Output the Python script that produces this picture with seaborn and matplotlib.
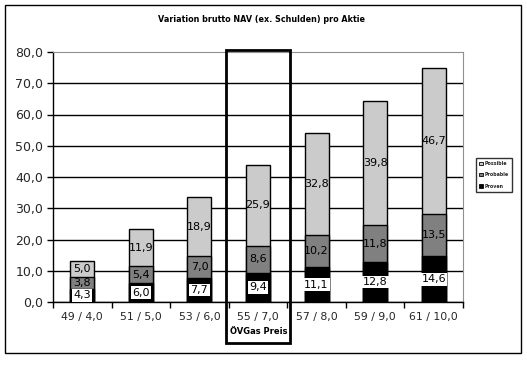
import matplotlib
matplotlib.use("Agg")
import matplotlib.pyplot as plt
import matplotlib.transforms as mtransforms
from matplotlib.patches import Rectangle, Patch
import numpy as np
import pandas as pd
import seaborn as sns

categories = ["49 / 4,0", "51 / 5,0", "53 / 6,0", "55 / 7,0", "57 / 8,0", "59 / 9,0", "61 / 10,0"]
proven = [4.3, 6.0, 7.7, 9.4, 11.1, 12.8, 14.6]
probable = [3.8, 5.4, 7.0, 8.6, 10.2, 11.8, 13.5]
possible = [5.0, 11.9, 18.9, 25.9, 32.8, 39.8, 46.7]
series_names = ["Possible", "Probable", "Proven"]
y_ticks = [0, 10, 20, 30, 40, 50, 60, 70, 80]
title = "Variation brutto NAV (ex. Schulden) pro Aktie"
highlight_label = "ÖVGas Preis"
highlight_index = 3

sns.set_theme(style="white")
plt.rcParams["font.family"] = ["DejaVu Sans"]

df = pd.DataFrame({"cat": categories, "proven": proven,
                   "probable": probable, "possible": possible})
df["lvl2"] = df["proven"] + df["probable"]
df["lvl3"] = df["lvl2"] + df["possible"]

W, H = 527, 384
fig = plt.figure(figsize=(W / 100, H / 100), dpi=100)
fig.patch.set_facecolor("white")
ax = fig.add_axes([53 / W, 1 - 302 / H, (463 - 53) / W, (302 - 52) / H])

c_possible = "#cbcbcb"
c_probable = "#808080"
c_proven = "#000000"
bw = 0.41
common = dict(x="cat", order=categories, width=bw, edgecolor="black",
              linewidth=1.0, ax=ax, zorder=3)
sns.barplot(data=df, y="lvl3", color=c_possible, saturation=1, **common)
sns.barplot(data=df, y="lvl2", color=c_probable, saturation=1, **common)
sns.barplot(data=df, y="proven", color=c_proven, saturation=1, **common)

ax.set_ylim(0, 80)
ax.set_xlim(-0.5, len(categories) - 0.5)
ax.set_xlabel("")
ax.set_ylabel("")

# labels
fs = 8
for i in range(len(categories)):
    ax.text(i, df["proven"][i] / 2, f"{proven[i]:.1f}".replace(".", ","),
            ha="center", va="center", fontsize=fs, color="black", zorder=5,
            bbox=dict(facecolor="white", edgecolor="none", pad=1.0))
    ax.text(i, df["proven"][i] + probable[i] / 2, f"{probable[i]:.1f}".replace(".", ","),
            ha="center", va="center", fontsize=fs, color="black", zorder=5)
    ax.text(i, df["lvl2"][i] + possible[i] / 2, f"{possible[i]:.1f}".replace(".", ","),
            ha="center", va="center", fontsize=fs, color="black", zorder=5)

# y axis
ax.set_yticks(y_ticks)
ax.set_yticklabels([f"{v:.1f}".replace(".", ",") for v in y_ticks], fontsize=9)
ax.yaxis.grid(True, color="black", linewidth=1.0)
ax.set_axisbelow(True)
ax.get_ygridlines()[-1].set_visible(False)
ax.tick_params(axis="y", which="major", direction="out", length=4, width=1,
               color="black", left=True, pad=3)

# x axis
ax.set_xticks(range(len(categories)))
ax.set_xticklabels(categories, fontsize=7.8)
ax.tick_params(axis="x", which="major", length=0, pad=7)
ax.set_xticks(np.arange(-0.5, len(categories), 1.0), minor=True)
ax.tick_params(axis="x", which="minor", direction="out", length=4, width=1,
               color="black", bottom=True)

for s in ["left", "bottom"]:
    ax.spines[s].set_color("black")
    ax.spines[s].set_linewidth(1.0)
for s in ["top", "right"]:
    ax.spines[s].set_color("#909090")
    ax.spines[s].set_linestyle((0, (1, 1)))
    ax.spines[s].set_linewidth(0.8)

# title
fig.text(262 / W, 1 - 20 / H, title, ha="center", va="center",
         fontsize=5.8, fontweight="bold", color="black")

# highlight box
trans = mtransforms.blended_transform_factory(ax.transData, fig.transFigure)
rect = Rectangle((highlight_index - 0.545, 1 - 343 / H), 1.09, (343 - 50) / H,
                 transform=trans, fill=False, edgecolor="black", linewidth=2,
                 clip_on=False, zorder=10)
fig.add_artist(rect)
fig.text(259 / W, 1 - 332 / H, highlight_label, ha="center", va="center",
         fontsize=6, fontweight="bold", color="black")

# legend
handles = [Patch(facecolor=c, edgecolor="black", linewidth=0.6)
           for c in [c_possible, c_probable, c_proven]]
leg = fig.legend(handles, series_names, loc="upper left",
                 bbox_to_anchor=(476 / W, 1 - 158 / H),
                 frameon=True, fancybox=False, handlelength=0.7, handleheight=0.7,
                 handletextpad=0.5, borderpad=0.7, labelspacing=1.3,
                 borderaxespad=0,
                 prop={"weight": "bold", "size": 3.4})
leg.get_frame().set_edgecolor("black")
leg.get_frame().set_linewidth(1.0)

# outer border
fig.add_artist(Rectangle((5 / W, 1 - 353 / H), (521 - 5) / W, (353 - 5) / H,
                         transform=fig.transFigure, fill=False,
                         edgecolor="black", linewidth=1.0))

fig.savefig("out.png", dpi=100)
